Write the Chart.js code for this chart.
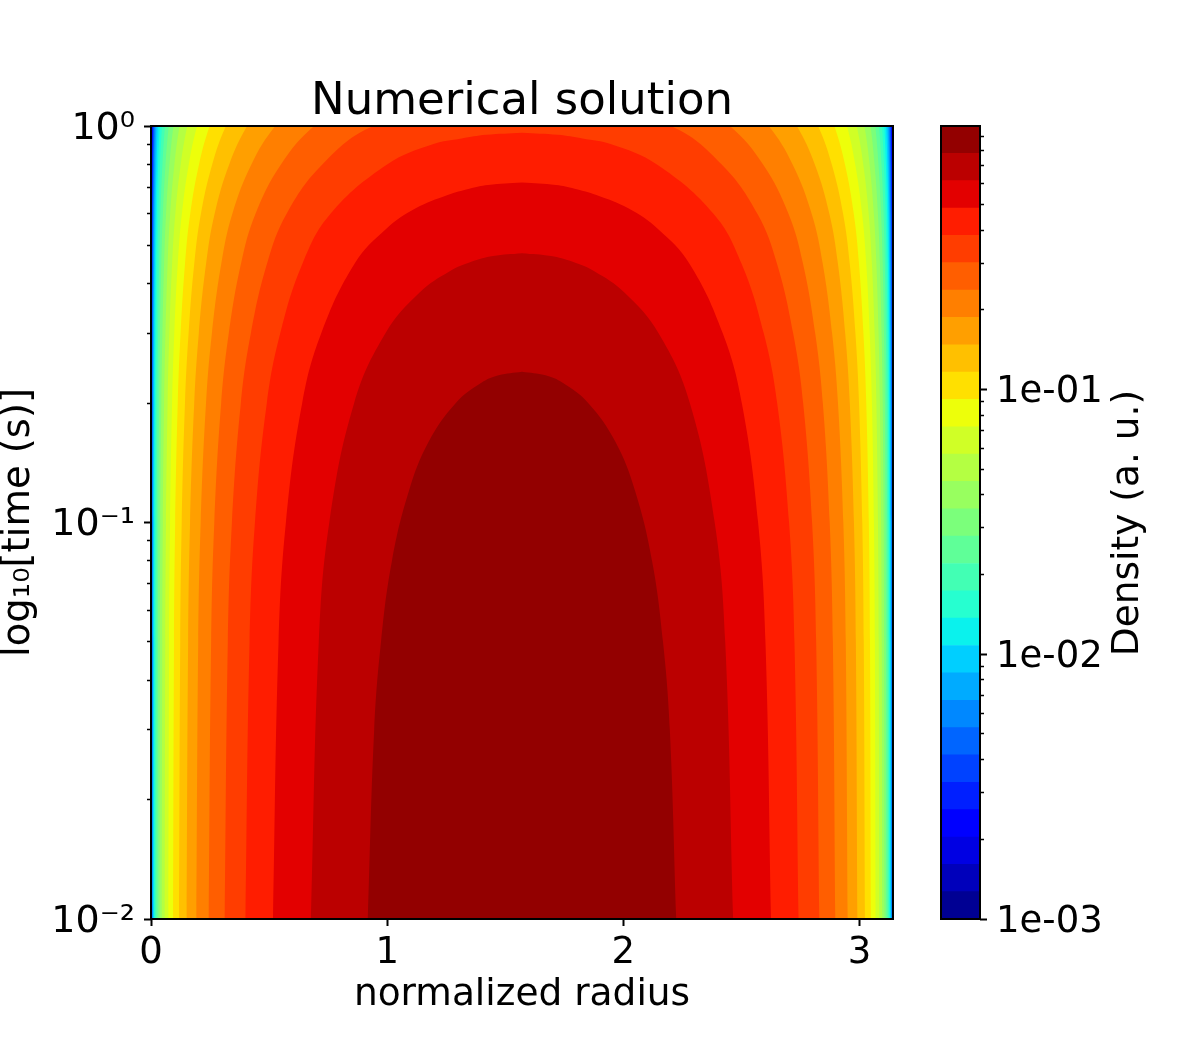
<!DOCTYPE html>
<html>
<head>
<meta charset="utf-8">
<title>Numerical solution</title>
<script src="https://cdn.jsdelivr.net/npm/chart.js@4/dist/chart.umd.min.js"></script>
<style>
  html, body { margin: 0; padding: 0; background: #fff; }
  canvas { position: absolute; top: 0; }
  #contourChart { left: 0; }
  #colorbarChart { left: 900px; }
</style>
</head>
<body>
<canvas id="contourChart" width="900" height="1050"></canvas>
<canvas id="colorbarChart" width="300" height="1050"></canvas>
<script>
// contour levels of the density
const densityLevels = [
    0.001, 0.001268, 0.001609, 0.002041, 0.00259, 0.003285, 0.004167, 0.005286,
    0.006706, 0.008507, 0.01079, 0.01369, 0.01737, 0.02203, 0.02795, 0.03545,
    0.04497, 0.05705, 0.07236, 0.09177, 0.1164, 0.1477, 0.1874, 0.2377,
    0.3015, 0.3824, 0.4851, 0.6153, 0.7804, 0.99
];
const bandColors = [
    "#000093", "#0000bb", "#0000e3", "#0000ff", "#001fff", "#0042ff", "#0065ff", "#0088ff",
    "#00abff", "#00cfff", "#0af2ed", "#26ffd0", "#42ffb4", "#5fff98", "#7bff7b", "#98ff5f",
    "#b4ff42", "#d0ff26", "#edff0a", "#ffe000", "#ffc000", "#ff9f00", "#ff7f00", "#ff5e00",
    "#ff3d00", "#ff1d00", "#e30000", "#bb0000", "#930000"
];

const radiusMax = 3.1416;
const radiusTicks = [0, 1, 2, 3];
const timeMajorTicks = [0.01, 0.1, 1];
const timeMajorLabels = ["10⁻²", "10⁻¹", "10⁰"];
const timeMinorTicks = [0.02, 0.03, 0.04, 0.05, 0.06, 0.07, 0.08, 0.09, 0.2, 0.3, 0.4, 0.5, 0.6, 0.7, 0.8, 0.9];
const densityMajorTicks = [0.001, 0.01, 0.1];
const densityMajorLabels = ["1e-03", "1e-02", "1e-01"];
const densityMinorTicks = [
    0.002, 0.003, 0.004, 0.005, 0.006, 0.007, 0.008, 0.009,
    0.02, 0.03, 0.04, 0.05, 0.06, 0.07, 0.08, 0.09,
    0.2, 0.3, 0.4, 0.5, 0.6, 0.7, 0.8, 0.9
];

// left edge of each contour (radius) at these times; the plot is symmetric about the middle
// the row at 1.2 is off the plot, it only keeps the curve from bending flat at the top edge
const timeRows = [0.01, 0.05, 0.1, 0.2, 0.3, 0.45, 0.6, 0.8, 1, 1.2];
const contourLeft = [
    [0.0010, 0.0011, 0.0011, 0.0012, 0.0014, 0.0016, 0.0018, 0.0022, 0.0027, 0.0033],
    [0.0013, 0.0013, 0.0014, 0.0016, 0.0017, 0.0020, 0.0023, 0.0028, 0.0034, 0.0041],
    [0.0016, 0.0017, 0.0018, 0.0020, 0.0022, 0.0025, 0.0029, 0.0035, 0.0043, 0.0053],
    [0.0021, 0.0022, 0.0023, 0.0025, 0.0028, 0.0032, 0.0037, 0.0045, 0.0055, 0.0067],
    [0.0026, 0.0027, 0.0029, 0.0032, 0.0035, 0.0041, 0.0047, 0.0057, 0.0069, 0.0085],
    [0.0033, 0.0035, 0.0037, 0.0040, 0.0045, 0.0051, 0.0059, 0.0072, 0.0088, 0.0107],
    [0.0042, 0.0044, 0.0046, 0.0051, 0.0057, 0.0065, 0.0075, 0.0092, 0.0112, 0.0136],
    [0.0054, 0.0056, 0.0059, 0.0065, 0.0072, 0.0083, 0.0095, 0.0116, 0.0142, 0.0173],
    [0.0068, 0.0071, 0.0075, 0.0083, 0.0091, 0.0105, 0.0121, 0.0148, 0.0180, 0.0219],
    [0.0087, 0.0090, 0.0095, 0.0105, 0.0116, 0.0133, 0.0153, 0.0187, 0.0228, 0.0278],
    [0.0110, 0.0114, 0.0120, 0.0133, 0.0147, 0.0169, 0.0194, 0.0237, 0.0289, 0.0353],
    [0.0139, 0.0145, 0.0153, 0.0169, 0.0186, 0.0214, 0.0246, 0.0301, 0.0367, 0.0448],
    [0.0177, 0.0184, 0.0194, 0.0214, 0.0236, 0.0272, 0.0313, 0.0382, 0.0466, 0.0568],
    [0.0224, 0.0233, 0.0245, 0.0271, 0.0300, 0.0345, 0.0397, 0.0485, 0.0591, 0.0721],
    [0.0285, 0.0296, 0.0311, 0.0344, 0.0380, 0.0437, 0.0503, 0.0615, 0.0750, 0.0915],
    [0.0361, 0.0376, 0.0395, 0.0437, 0.0483, 0.0555, 0.0638, 0.0781, 0.0951, 0.1162],
    [0.0458, 0.0477, 0.0501, 0.0554, 0.0612, 0.0704, 0.0810, 0.0991, 0.1208, 0.1476],
    [0.0581, 0.0605, 0.0636, 0.0703, 0.0777, 0.0894, 0.1029, 0.1258, 0.1535, 0.1877],
    [0.0737, 0.0768, 0.0807, 0.0892, 0.0986, 0.1134, 0.1306, 0.1599, 0.1951, 0.2389],
    [0.0936, 0.0974, 0.1024, 0.1132, 0.1252, 0.1441, 0.1660, 0.2033, 0.2485, 0.3048],
    [0.1188, 0.1237, 0.1300, 0.1438, 0.1591, 0.1832, 0.2111, 0.2590, 0.3172, 0.3905],
    [0.1509, 0.1572, 0.1653, 0.1829, 0.2024, 0.2333, 0.2691, 0.3310, 0.4070, 0.5040],
    [0.1920, 0.1999, 0.2103, 0.2329, 0.2579, 0.2977, 0.3441, 0.4250, 0.5262, 0.6596],
    [0.2444, 0.2546, 0.2680, 0.2970, 0.3294, 0.3812, 0.4421, 0.5502, 0.6909, 0.8905],
    [0.3120, 0.3253, 0.3426, 0.3803, 0.4228, 0.4914, 0.5736, 0.7252, 0.9411, 1.4025]
];

// the four inner contours close into arches below the top of the plot
const archTimes = [
    [0.01, 0.05, 0.1, 0.2, 0.3, 0.45, 0.6, 0.8, 0.9, 0.93, 0.95, 0.962],
    [0.01, 0.05, 0.1, 0.2, 0.3, 0.45, 0.55, 0.62, 0.67, 0.695, 0.71, 0.72],
    [0.01, 0.05, 0.1, 0.2, 0.3, 0.38, 0.43, 0.455, 0.47, 0.4776],
    [0.01, 0.03, 0.05, 0.08, 0.12, 0.16, 0.2, 0.225, 0.235, 0.2399]
];
const archLeft = [
    [0.3999, 0.4173, 0.4401, 0.4903, 0.5472, 0.6415, 0.7591, 0.9996, 1.1931, 1.3150, 1.4190, 1.5708],
    [0.5165, 0.5400, 0.5711, 0.6400, 0.7208, 0.8624, 0.9952, 1.1207, 1.2558, 1.3477, 1.4266, 1.5708],
    [0.6769, 0.7103, 0.7549, 0.8599, 0.9926, 1.1372, 1.2648, 1.3589, 1.4476, 1.5708],
    [0.9178, 0.9449, 0.9738, 1.0201, 1.0919, 1.1759, 1.2898, 1.3987, 1.4716, 1.5708]
];

const fontFamily = "'DejaVu Sans'";
Chart.defaults.font.family = fontFamily;
Chart.defaults.color = "#000";
Chart.defaults.animation = false;

// up the left side of a contour, down the mirrored right side
function contourShape(times, lefts) {
    const up = times.map((t, k) => ({ x: lefts[k], y: t }));
    const down = times.map((t, k) => ({ x: radiusMax - lefts[k], y: t })).reverse();
    return up.concat(down);
}

const contourDatasets = [];
contourLeft.forEach((lefts, i) => {
    contourDatasets.push({
        data: contourShape(timeRows, lefts),
        backgroundColor: bandColors[i],
        order: bandColors.length - i
    });
});
archLeft.forEach((lefts, k) => {
    const i = contourLeft.length + k;
    contourDatasets.push({
        data: contourShape(archTimes[k], lefts),
        backgroundColor: bandColors[i],
        order: bandColors.length - i
    });
});

function useTicks(values) {
    return scale => { scale.ticks = values.map(v => ({ value: v })); };
}

const majorGrid = { drawOnChartArea: false, tickLength: 7, tickWidth: 2, tickColor: "#000" };
const minorGrid = { drawOnChartArea: false, tickLength: 4, tickWidth: 1.5, tickColor: "#000" };

const frame = {
    id: "frame",
    afterDraw(chart) {
        const a = chart.chartArea, ctx = chart.ctx;
        ctx.save();
        ctx.strokeStyle = "#000";
        ctx.lineWidth = 2;
        ctx.strokeRect(a.left, a.top, a.right - a.left, a.bottom - a.top);
        ctx.restore();
    }
};

new Chart(document.getElementById("contourChart"), {
    type: "scatter",
    data: { datasets: contourDatasets },
    plugins: [frame],
    options: {
        responsive: false,
        layout: { padding: { left: 0, right: 7, top: 0, bottom: 0 } },
        elements: {
            line: { fill: "shape", borderWidth: 0, tension: 0.4, capBezierPoints: false },
            point: { radius: 0, hoverRadius: 0 }
        },
        datasets: { scatter: { showLine: true } },
        plugins: {
            legend: { display: false },
            tooltip: { enabled: false },
            title: {
                display: true,
                text: "Numerical solution",
                fullSize: false,
                color: "#000",
                font: { size: 45, weight: "normal", lineHeight: 1 },
                padding: { top: 80, bottom: 1 }
            }
        },
        scales: {
            x: {
                type: "linear",
                min: 0,
                max: radiusMax,
                border: { display: false },
                grid: majorGrid,
                afterBuildTicks: useTicks(radiusTicks),
                afterFit: s => { s.height = 131; },
                ticks: { autoSkip: false, maxRotation: 0, font: { size: 37 }, padding: 5, callback: v => String(v) },
                title: {
                    display: true,
                    text: "normalized radius",
                    font: { size: 37.5, lineHeight: 1 },
                    padding: { top: 0, bottom: 36 }
                }
            },
            y: {
                type: "logarithmic",
                min: 0.01,
                max: 1,
                weight: 1,
                border: { display: false },
                grid: majorGrid,
                afterBuildTicks: useTicks(timeMajorTicks),
                afterFit: s => { s.width = 151; },
                ticks: {
                    autoSkip: false,
                    font: { size: 38 },
                    padding: 9,
                    labelOffset: 3,
                    callback: v => timeMajorLabels[timeMajorTicks.indexOf(v)]
                },
                title: {
                    display: true,
                    text: "log₁₀[time (s)]",
                    font: { size: 38.5, lineHeight: 1 },
                    padding: { top: 0, bottom: 0 }
                }
            },
            yMinor: {
                type: "logarithmic",
                position: "left",
                min: 0.01,
                max: 1,
                weight: 0,
                border: { display: false },
                grid: minorGrid,
                afterBuildTicks: useTicks(timeMinorTicks),
                afterFit: s => { s.width = 0; },
                ticks: { display: false, autoSkip: false }
            }
        }
    }
});

const colorbarTitle = {
    id: "colorbarTitle",
    afterDraw(chart) {
        const ctx = chart.ctx;
        ctx.save();
        ctx.translate(228, 523);
        ctx.rotate(-Math.PI / 2);
        ctx.font = "37.5px " + fontFamily;
        ctx.fillStyle = "#000";
        ctx.textAlign = "center";
        ctx.textBaseline = "middle";
        ctx.fillText("Density (a. u.)", 0, 0);
        ctx.restore();
    }
};

new Chart(document.getElementById("colorbarChart"), {
    type: "bar",
    data: {
        labels: ["Density"],
        datasets: bandColors.map((color, i) => ({
            data: [[densityLevels[i], densityLevels[i + 1]]],
            backgroundColor: color,
            borderWidth: 0,
            barPercentage: 1,
            categoryPercentage: 1
        }))
    },
    plugins: [frame, colorbarTitle],
    options: {
        responsive: false,
        layout: { padding: { left: 41, right: 0, top: 126, bottom: 131 } },
        plugins: { legend: { display: false }, tooltip: { enabled: false } },
        scales: {
            x: { display: false, stacked: true },
            y: {
                type: "logarithmic",
                position: "right",
                min: 0.001,
                max: 0.99,
                weight: 1,
                border: { display: false },
                grid: majorGrid,
                afterBuildTicks: useTicks(densityMajorTicks),
                afterFit: s => { s.width = 220; },
                ticks: {
                    autoSkip: false,
                    font: { size: 37 },
                    padding: 9,
                    labelOffset: 3,
                    callback: v => densityMajorLabels[densityMajorTicks.indexOf(v)]
                }
            },
            yMinor: {
                type: "logarithmic",
                position: "right",
                min: 0.001,
                max: 0.99,
                weight: 0,
                border: { display: false },
                grid: minorGrid,
                afterBuildTicks: useTicks(densityMinorTicks),
                afterFit: s => { s.width = 0; },
                ticks: { display: false, autoSkip: false }
            }
        }
    }
});
</script>
</body>
</html>
